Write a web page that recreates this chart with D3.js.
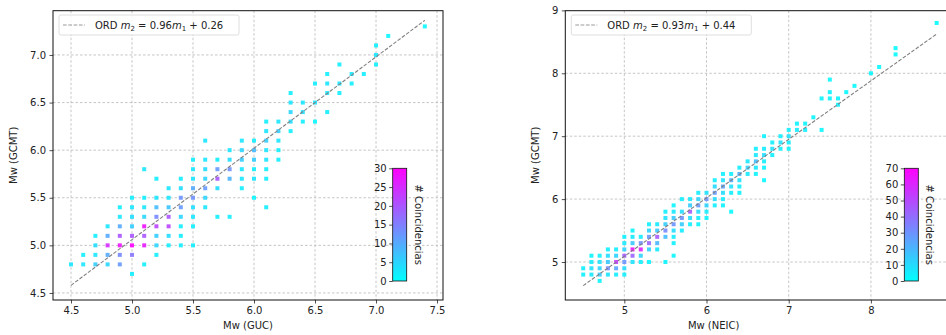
<!DOCTYPE html>
<html><head><meta charset="utf-8">
<script src="https://cdn.jsdelivr.net/npm/d3@7"></script>
<style>body{margin:0;background:#fff}svg{display:block;font-family:"DejaVu Sans",sans-serif}</style>
</head><body>
<svg id="c" width="946" height="335"></svg>
<script>
// ---------- DATA ----------
// [Mw x-catalogue, Mw GCMT, number of coincidences]
const gucPoints = [
[4.5,4.8,3],
[4.6,4.9,2],[4.6,4.8,3],
[4.7,5.1,2],[4.7,5.0,4],[4.7,4.9,3],[4.7,4.8,6],
[4.8,5.2,3],[4.8,5.1,10],[4.8,5.0,25],[4.8,4.9,10],[4.8,4.8,5],
[4.9,5.4,2],[4.9,5.3,3],[4.9,5.2,10],[4.9,5.1,20],[4.9,5.0,28],[4.9,4.9,14],[4.9,4.8,12],
[5.0,5.5,2],[5.0,5.4,3],[5.0,5.3,4],[5.0,5.2,6],[5.0,5.1,20],[5.0,5.0,30],[5.0,4.9,16],[5.0,4.7,2],
[5.1,5.8,3],[5.1,5.5,2],[5.1,5.4,3],[5.1,5.3,5],[5.1,5.2,28],[5.1,5.1,20],[5.1,5.0,27],[5.1,4.8,2],
[5.2,5.7,2],[5.2,5.5,3],[5.2,5.4,8],[5.2,5.3,14],[5.2,5.2,22],[5.2,5.1,6],[5.2,5.0,5],[5.2,4.9,2],
[5.3,5.6,3],[5.3,5.5,3],[5.3,5.4,7],[5.3,5.3,20],[5.3,5.2,22],[5.3,5.1,4],[5.3,5.0,2],
[5.4,5.7,2],[5.4,5.6,4],[5.4,5.5,13],[5.4,5.4,12],[5.4,5.3,5],[5.4,5.2,2],[5.4,5.1,2],[5.4,5.0,2],
[5.5,5.9,2],[5.5,5.8,3],[5.5,5.7,3],[5.5,5.6,10],[5.5,5.5,13],[5.5,5.4,4],[5.5,5.3,3],[5.5,5.2,2],[5.5,5.0,2],
[5.6,6.1,3],[5.6,5.9,3],[5.6,5.8,4],[5.6,5.7,5],[5.6,5.6,12],[5.6,5.5,5],[5.6,5.4,3],
[5.7,5.9,2],[5.7,5.8,12],[5.7,5.7,20],[5.7,5.6,4],[5.7,5.3,2],
[5.8,6.0,3],[5.8,5.9,4],[5.8,5.8,13],[5.8,5.7,9],[5.8,5.3,2],
[5.9,6.1,3],[5.9,6.0,5],[5.9,5.9,6],[5.9,5.8,3],[5.9,5.7,3],[5.9,5.6,2],
[6.0,6.1,2],[6.0,6.0,8],[6.0,5.9,6],[6.0,5.8,2],[6.0,5.7,3],[6.0,5.5,1],
[6.1,6.3,2],[6.1,6.2,3],[6.1,6.1,6],[6.1,6.0,3],[6.1,5.9,3],[6.1,5.8,2],[6.1,5.7,2],[6.1,5.4,2],
[6.2,6.3,3],[6.2,6.2,6],[6.2,6.1,3],[6.2,6.0,2],[6.2,5.9,2],
[6.3,6.6,2],[6.3,6.5,3],[6.3,6.4,5],[6.3,6.3,4],[6.3,6.2,2],
[6.4,6.5,3],[6.4,6.4,4],[6.4,6.3,2],
[6.5,6.7,2],[6.5,6.5,3],[6.5,6.3,1],
[6.6,6.8,2],[6.6,6.7,3],[6.6,6.6,3],[6.6,6.4,2],
[6.7,6.9,2],[6.7,6.7,3],[6.7,6.6,2],
[6.8,6.8,3],[6.8,6.7,2],
[6.9,6.8,2],
[7.0,7.1,2],[7.0,7.0,3],[7.0,6.9,2],
[7.1,7.2,1],
[7.4,7.3,1]
];
const neicPoints = [
[4.5,4.9,4],[4.5,4.8,4],
[4.6,5.1,3],[4.6,5.0,5],[4.6,4.9,8],[4.6,4.8,6],
[4.7,5.1,4],[4.7,5.0,8],[4.7,4.9,12],[4.7,4.8,15],[4.7,4.7,3],
[4.8,5.2,4],[4.8,5.1,10],[4.8,5.0,15],[4.8,4.9,32],[4.8,4.8,8],
[4.9,5.2,5],[4.9,5.1,12],[4.9,5.0,55],[4.9,4.9,25],[4.9,4.8,5],
[5.0,5.4,4],[5.0,5.3,6],[5.0,5.2,12],[5.0,5.1,45],[5.0,5.0,30],[5.0,4.9,10],[5.0,4.8,4],
[5.1,5.5,3],[5.1,5.4,6],[5.1,5.3,15],[5.1,5.2,65],[5.1,5.1,42],[5.1,5.0,8],
[5.2,5.4,5],[5.2,5.3,30],[5.2,5.2,60],[5.2,5.1,12],[5.2,5.0,4],
[5.3,5.6,4],[5.3,5.5,12],[5.3,5.4,28],[5.3,5.3,42],[5.3,5.2,12],[5.3,5.0,3],
[5.4,5.6,6],[5.4,5.5,15],[5.4,5.4,45],[5.4,5.3,20],[5.4,5.2,6],
[5.5,5.8,4],[5.5,5.7,8],[5.5,5.6,14],[5.5,5.5,32],[5.5,5.4,18],[5.5,5.0,3],
[5.6,5.9,3],[5.6,5.8,6],[5.6,5.7,15],[5.6,5.6,30],[5.6,5.5,10],[5.6,5.4,5],[5.6,5.3,4],[5.6,5.1,3],
[5.7,6.0,4],[5.7,5.8,10],[5.7,5.7,30],[5.7,5.6,14],[5.7,5.5,5],
[5.8,6.0,6],[5.8,5.9,14],[5.8,5.8,45],[5.8,5.7,10],[5.8,5.6,4],
[5.9,6.1,5],[5.9,6.0,12],[5.9,5.9,28],[5.9,5.8,10],[5.9,5.7,5],[5.9,5.6,3],
[6.0,6.1,8],[6.0,6.0,30],[6.0,5.9,12],[6.0,5.8,5],[6.0,5.7,3],
[6.1,6.3,4],[6.1,6.2,10],[6.1,6.1,28],[6.1,6.0,10],[6.1,5.9,4],
[6.2,6.4,4],[6.2,6.3,8],[6.2,6.2,25],[6.2,6.1,10],[6.2,6.0,5],[6.2,5.9,3],
[6.3,6.4,5],[6.3,6.3,22],[6.3,6.2,8],[6.3,6.1,4],[6.3,5.8,2],
[6.4,6.5,5],[6.4,6.4,22],[6.4,6.3,8],[6.4,6.2,4],[6.4,6.1,3],
[6.5,6.6,6],[6.5,6.5,12],[6.5,6.4,6],
[6.6,6.8,4],[6.6,6.7,6],[6.6,6.6,18],[6.6,6.5,6],[6.6,6.4,3],
[6.7,7.0,3],[6.7,6.8,5],[6.7,6.7,10],[6.7,6.6,5],[6.7,6.5,3],[6.7,6.3,2],
[6.8,6.9,4],[6.8,6.8,8],[6.8,6.7,4],
[6.9,7.0,4],[6.9,6.9,8],[6.9,6.8,4],
[7.0,7.1,4],[7.0,7.0,8],[7.0,6.9,5],[7.0,6.8,3],
[7.1,7.2,3],[7.1,7.1,5],
[7.2,7.2,3],[7.2,7.1,4],
[7.3,7.3,3],
[7.4,7.6,3],[7.4,7.1,2],
[7.5,7.9,2],[7.5,7.7,3],[7.5,7.6,3],
[7.6,7.6,3],[7.6,7.5,4],
[7.7,7.7,2],
[7.8,7.8,2],
[8.0,8.0,2],
[8.1,8.1,2],
[8.3,8.4,2],[8.3,8.3,2],
[8.8,8.8,1]
];
const gucXTicks = [4.5,5.0,5.5,6.0,6.5,7.0,7.5];
const gucYTicks = [4.5,5.0,5.5,6.0,6.5,7.0];
const neicXTicks = [5,6,7,8];
const neicYTicks = [5,6,7,8,9];
const gucFit = {slope:0.96, intercept:0.26, from:4.5, to:7.4};
const neicFit = {slope:0.93, intercept:0.44, from:4.5, to:8.8};
const gucCbarTicks = [0,5,10,15,20,25,30];
const neicCbarTicks = [0,10,20,30,40,50,60,70];

// ---------- DRAW ----------
const svg = d3.select("#c");
const defs = svg.append("defs");
const grad = defs.append("linearGradient").attr("id","coolg").attr("x1",0).attr("y1",1).attr("x2",0).attr("y2",0);
grad.append("stop").attr("offset","0%").attr("stop-color","#00ffff");
grad.append("stop").attr("offset","100%").attr("stop-color","#ff00ff");

function panel(o){
  const x = d3.scaleLinear().domain(o.xdom).range([o.left,o.right]);
  const y = d3.scaleLinear().domain(o.ydom).range([o.bottom,o.top]);
  const col = d3.scaleLinear().domain([0,o.vmax]).range(["#00ffff","#ff00ff"]).interpolate(d3.interpolateRgb).clamp(true);
  const g = svg.append("g");
  const clipId = "clip"+o.id;
  defs.append("clipPath").attr("id",clipId).append("rect")
    .attr("x",o.left).attr("y",o.top).attr("width",o.right-o.left).attr("height",o.bottom-o.top);
  // grid
  const gg = g.append("g").attr("clip-path",`url(#${clipId})`);
  gg.selectAll(".gx").data(o.xticks).join("line")
    .attr("x1",d=>x(d)).attr("x2",d=>x(d)).attr("y1",o.top).attr("y2",o.bottom)
    .attr("stroke","#b8b8b8").attr("stroke-width",0.8).attr("stroke-dasharray","2.5,2");
  gg.selectAll(".gy").data(o.yticks).join("line")
    .attr("y1",d=>y(d)).attr("y2",d=>y(d)).attr("x1",o.left).attr("x2",o.right)
    .attr("stroke","#b8b8b8").attr("stroke-width",0.8).attr("stroke-dasharray","2.5,2");
  // points
  const s = 4;
  gg.selectAll(".pt").data(o.data).join("rect")
    .attr("x",d=>x(d[0])-s/2).attr("y",d=>y(d[1])-s/2).attr("width",s).attr("height",s)
    .attr("fill",d=>col(d[2])).attr("opacity",0.9);
  // fit line
  const f = o.fit;
  gg.append("line")
    .attr("x1",x(f.from)).attr("y1",y(f.slope*f.from+f.intercept))
    .attr("x2",x(f.to)).attr("y2",y(f.slope*f.to+f.intercept))
    .attr("stroke","#808080").attr("stroke-width",1.1).attr("stroke-dasharray","3.7,1.6");
  // axes
  const fmt = o.fmt;
  const ax = g.append("g").attr("transform",`translate(0,${o.bottom})`)
    .call(d3.axisBottom(x).tickValues(o.xticks).tickFormat(fmt).tickSize(3.5).tickPadding(3.5));
  const ay = g.append("g").attr("transform",`translate(${o.left},0)`)
    .call(d3.axisLeft(y).tickValues(o.yticks).tickFormat(fmt).tickSize(3.5).tickPadding(3.5));
  [ax,ay].forEach(a=>{
    a.select(".domain").remove();
    a.selectAll("text").attr("font-size",10).attr("fill","#222").attr("font-family","DejaVu Sans");
    a.selectAll("line").attr("stroke","#222").attr("stroke-width",0.8);
  });
  // frame
  g.append("rect").attr("x",o.left).attr("y",o.top).attr("width",o.right-o.left).attr("height",o.bottom-o.top)
    .attr("fill","none").attr("stroke","#111").attr("stroke-width",1);
  // axis labels
  g.append("text").attr("x",(o.left+Math.min(o.right,946))/2 + o.xlabOff).attr("y",329).attr("text-anchor","middle")
    .attr("font-size",10).attr("fill","#222").text(o.xlabel);
  g.append("text").attr("transform",`translate(${o.ylabX},${(o.top+o.bottom)/2}) rotate(-90)`)
    .attr("text-anchor","middle").attr("font-size",10).attr("fill","#222").text("Mw (GCMT)");
  // legend
  const lg = g.append("g");
  lg.append("rect").attr("x",o.left+6).attr("y",15).attr("width",o.legW).attr("height",20).attr("rx",2)
    .attr("fill","#fff").attr("fill-opacity",0.85).attr("stroke","#d6d6d6").attr("stroke-width",0.8);
  lg.append("line").attr("x1",o.left+10).attr("x2",o.left+32).attr("y1",25).attr("y2",25)
    .attr("stroke","#999").attr("stroke-width",1).attr("stroke-dasharray","3.7,1.6");
  const t = lg.append("text").attr("x",o.left+42).attr("y",29).attr("font-size",10).attr("fill","#222");
  t.append("tspan").text("ORD ");
  t.append("tspan").attr("font-style","italic").text("m");
  t.append("tspan").attr("font-size",7).attr("dy",2).text("2");
  t.append("tspan").attr("dy",-2).text(` = ${o.fit.slope.toFixed(2)}`);
  t.append("tspan").attr("font-style","italic").text("m");
  t.append("tspan").attr("font-size",7).attr("dy",2).text("1");
  t.append("tspan").attr("dy",-2).text(` + ${o.fit.intercept.toFixed(2)}`);
  // colorbar
  const cb = {x:o.cbX, w:14, top:168.3, bottom:281};
  g.append("rect").attr("x",cb.x).attr("y",cb.top).attr("width",cb.w).attr("height",cb.bottom-cb.top)
    .attr("fill","url(#coolg)").attr("stroke","#111").attr("stroke-width",0.8);
  const cs = d3.scaleLinear().domain([0,o.vmax]).range([cb.bottom,cb.top]);
  const ac = g.append("g").attr("transform",`translate(${cb.x},0)`)
    .call(d3.axisLeft(cs).tickValues(o.cbTicks).tickFormat(d3.format("d")).tickSize(3.5).tickPadding(2.5));
  ac.select(".domain").remove();
  ac.selectAll("text").attr("font-size",10).attr("fill","#222").attr("font-family","DejaVu Sans");
  ac.selectAll("line").attr("stroke","#222").attr("stroke-width",0.8);
  g.append("text").attr("transform",`translate(${cb.x+cb.w+8},${(cb.top+cb.bottom)/2}) rotate(90)`)
    .attr("text-anchor","middle").attr("font-size",10).attr("fill","#222").text("# Coincidencias");
}

panel({id:"L", data:gucPoints, left:53, right:443, top:10.7, bottom:300,
  xdom:[4.3525,7.549], ydom:[4.426,7.465], xticks:gucXTicks, yticks:gucYTicks,
  fmt:d3.format(".1f"), vmax:30, fit:gucFit, xlabel:"Mw (GUC)", xlabOff:0, ylabX:17,
  legW:180, cbX:392.7, cbTicks:gucCbarTicks});
panel({id:"R", data:neicPoints, left:565.3, right:955, top:10.7, bottom:300,
  xdom:[4.282,9.023], ydom:[4.396,8.995], xticks:neicXTicks, yticks:neicYTicks,
  fmt:d3.format("d"), vmax:70, fit:neicFit, xlabel:"Mw (NEIC)", xlabOff:-42, ylabX:539,
  legW:180, cbX:904.3, cbTicks:neicCbarTicks});
</script>
</body></html>
